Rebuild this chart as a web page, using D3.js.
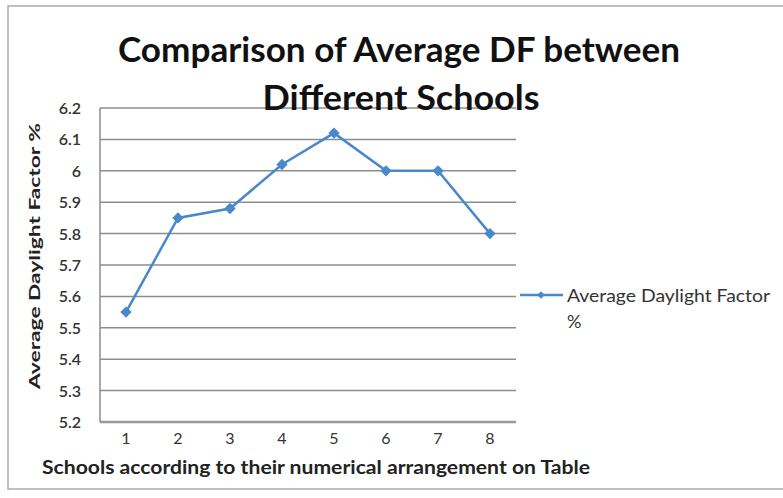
<!DOCTYPE html>
<html>
<head>
<meta charset="utf-8">
<script src="https://cdn.jsdelivr.net/npm/d3@7"></script>
<style>
  html, body { margin: 0; padding: 0; background: #fff; }
  svg { display: block; font-family: Lato, "Open Sans", sans-serif; }
  .tick-lbl { font-size: 16px; fill: #333; font-weight: 600; }
  .ttl { font-size: 34px; font-weight: 700; fill: #111; }
  .ax-ttl { font-size: 18px; font-weight: 700; fill: #222; }
  .leg { font-size: 18px; fill: #333; }
</style>
</head>
<body>
<div id="chart"></div>
<script>
// Average daylight factor per school
const schools = [1, 2, 3, 4, 5, 6, 7, 8];
const dfValues = [5.55, 5.85, 5.88, 6.02, 6.12, 6.0, 6.0, 5.8];
const yTicks = [5.2, 5.3, 5.4, 5.5, 5.6, 5.7, 5.8, 5.9, 6.0, 6.1, 6.2];
const titleLines = ["Comparison of Average DF between", "Different Schools"];
const yTitle = "Average Daylight  Factor %";
const xTitle = "Schools according to their numerical arrangement on Table";
const legendLines = ["Average Daylight Factor", "%"];

const W = 783, H = 498;
const m = { top: 108, right: 267, bottom: 76, left: 100 };
const col = "#4a88cb";

const svg = d3.select("#chart").append("svg")
  .attr("width", W).attr("height", H).attr("viewBox", `0 0 ${W} ${H}`);

// outer chart frame
svg.append("rect").attr("x", 8).attr("y", 6).attr("width", W + 10).attr("height", 483)
  .attr("fill", "none").attr("stroke", "#aaa").attr("stroke-width", 1.5);

const x = d3.scalePoint().domain(schools).range([m.left, W - m.right]).padding(0.5);
const y = d3.scaleLinear().domain([5.2, 6.2]).range([H - m.bottom, m.top]);

// gridlines
svg.append("g").selectAll("line").data(yTicks).join("line")
  .attr("x1", m.left).attr("x2", W - m.right)
  .attr("y1", (d) => y(d)).attr("y2", (d) => y(d))
  .attr("stroke", "#8c8c8c").attr("stroke-width", 1.5);
// left axis line
svg.append("line").attr("x1", m.left).attr("x2", m.left)
  .attr("y1", y(6.2)).attr("y2", y(5.2)).attr("stroke", "#8c8c8c").attr("stroke-width", 1.5);
// bottom axis a bit heavier
svg.append("line").attr("x1", m.left).attr("x2", W - m.right)
  .attr("y1", y(5.2)).attr("y2", y(5.2)).attr("stroke", "#999").attr("stroke-width", 2.5);

// y ticks
svg.append("g").selectAll("text").data(yTicks).join("text")
  .attr("class", "tick-lbl").attr("x", 81).attr("y", (d) => y(d) + 6)
  .attr("text-anchor", "end").text((d) => +d.toFixed(1));
// x ticks
svg.append("g").selectAll("text").data(schools).join("text")
  .attr("class", "tick-lbl").attr("x", (d) => x(d)).attr("y", 444)
  .attr("text-anchor", "middle").style("font-weight", 400).text((d) => d);

// title
const titleWidths = [562, 277];
svg.append("g").selectAll("text").data(titleLines).join("text")
  .attr("class", "ttl").attr("x", (d, i) => i ? 401 : 399).attr("y", (d, i) => 62 + i * 48)
  .attr("text-anchor", "middle")
  .attr("textLength", (d, i) => titleWidths[i]).attr("lengthAdjust", "spacingAndGlyphs")
  .text((d) => d);

// axis titles
svg.append("text").attr("class", "ax-ttl")
  .attr("transform", "translate(40,256) rotate(-90)")
  .attr("text-anchor", "middle").style("font-size", "16px")
  .attr("textLength", 266).attr("lengthAdjust", "spacingAndGlyphs").text(yTitle);
svg.append("text").attr("class", "ax-ttl").attr("x", 42).attr("y", 474)
  .style("font-size", "19px")
  .attr("textLength", 548).attr("lengthAdjust", "spacingAndGlyphs").text(xTitle);

// series
const line = d3.line().x((d, i) => x(schools[i])).y((d) => y(d));
svg.append("path").datum(dfValues).attr("d", line)
  .attr("fill", "none").attr("stroke", col).attr("stroke-width", 2.5);
const diamond = d3.symbol().type(d3.symbolSquare).size(64);
svg.append("g").selectAll("path").data(dfValues).join("path")
  .attr("transform", (d, i) => `translate(${x(schools[i])},${y(d)}) rotate(45)`)
  .attr("d", diamond).attr("fill", col);

// legend
svg.append("line").attr("x1", 520).attr("x2", 563).attr("y1", 295).attr("y2", 295)
  .attr("stroke", col).attr("stroke-width", 2.5);
svg.append("path").attr("transform", "translate(541,295) rotate(45)")
  .attr("d", d3.symbol().type(d3.symbolSquare).size(30)).attr("fill", col);
svg.append("g").selectAll("text").data(legendLines).join("text")
  .attr("class", "leg").attr("x", 567).attr("y", (d, i) => 302 + i * 26)
  .attr("textLength", (d, i) => i ? null : 203).attr("lengthAdjust", "spacingAndGlyphs")
  .text((d) => d);
</script>
</body>
</html>
